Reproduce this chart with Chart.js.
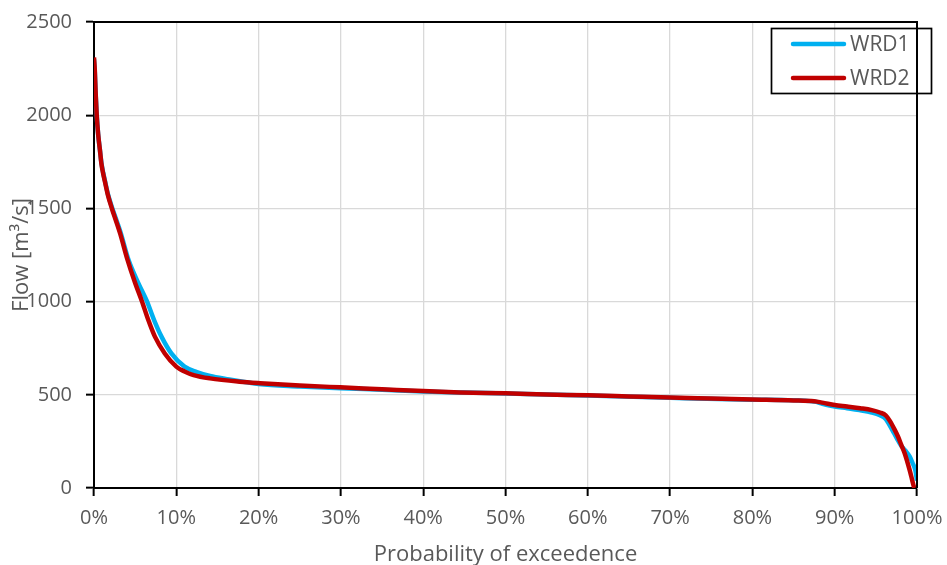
<!DOCTYPE html>
<html>
<head>
<meta charset="utf-8">
<script src="https://cdn.jsdelivr.net/npm/chart.js@4/dist/chart.umd.min.js"></script>
<style>
  html, body { margin: 0; padding: 0; background: #fff; }
  #wrap { width: 947px; height: 565px; position: relative; }
</style>
</head>
<body>
<div id="wrap"><canvas id="c" width="947" height="565"></canvas></div>
<script>
// ---- data (probability of exceedence in %, flow in m3/s) ----
const seriesNames = ['WRD1', 'WRD2'];
const xTitle = 'Probability of exceedence';
const yTitle = 'Flow [m\u00B3/s]';

const wrd1Prob = [0, 0.1, 0.2, 0.33, 0.5, 0.72, 0.9, 1.1, 1.37, 1.7, 2.19, 2.7, 3.2, 4.2, 5.4, 6.4, 7.3, 8.2, 9.4, 11.0, 12.5, 14.1, 16, 20, 25, 30, 35, 40, 45, 50, 60, 70, 80, 87.5, 88.5, 90, 91.5, 93, 94.5, 95.5, 96.2, 96.7, 97.2, 97.6, 98.1, 98.6, 99.1, 99.5, 99.8, 100];
const wrd1Flow = [2300, 2230, 2115, 2000, 1900, 1813, 1745, 1695, 1640, 1575, 1505, 1440, 1375, 1223, 1098, 1005, 901, 812, 722, 651, 622, 601, 585, 558, 545, 535, 527, 518, 512, 507, 496, 484, 474, 464, 452, 437, 428, 418, 405, 390, 370, 335, 295, 262, 225, 200, 170, 130, 95, 40];

const wrd2Prob = [0, 0.1, 0.2, 0.33, 0.5, 0.72, 0.9, 1.1, 1.37, 1.7, 2.19, 2.7, 3.2, 4.0, 5.0, 5.8, 6.6, 7.4, 8.6, 10.0, 11.0, 12.1, 14.1, 17.7, 20.2, 25, 29.9, 35, 40, 44.5, 50, 55, 60, 65, 70, 75, 80, 85, 87.5, 88.5, 90, 91.5, 93.1, 94.5, 95.5, 96.2, 96.7, 97.2, 97.7, 98.1, 98.5, 99.1, 99.4, 99.6, 99.7];
const wrd2Flow = [2310, 2240, 2120, 2000, 1900, 1813, 1740, 1690, 1635, 1570, 1497, 1430, 1362, 1235, 1100, 1005, 901, 812, 722, 651, 625, 606, 588, 570, 562, 550, 540, 530, 520, 513, 508, 502, 497, 491, 485, 480, 475, 470, 465, 458, 445, 437, 428, 418, 405, 390, 360, 320, 275, 230, 186, 97, 45, 10, 0];

const xTicks = [0, 10, 20, 30, 40, 50, 60, 70, 80, 90, 100];
const yTicks = [0, 500, 1000, 1500, 2000, 2500];

const colors = ['#00B0F0', '#C00000'];

function toPoints(xs, ys) { return xs.map((x, i) => ({ x: x, y: ys[i] })); }

const FONT = '"Open Sans", sans-serif';
Chart.defaults.font.family = FONT;
Chart.defaults.color = '#595959';

const framePlugin = {
  id: 'frame',
  afterDraw(chart) {
    const ctx = chart.ctx;
    const a = chart.chartArea;
    ctx.save();
    ctx.strokeStyle = '#000';
    ctx.lineWidth = 2;
    ctx.beginPath();
    ctx.moveTo(a.left, a.top);
    ctx.lineTo(a.right, a.top);
    ctx.lineTo(a.right, a.bottom);
    ctx.stroke();

    // axis titles
    ctx.fillStyle = '#595959';
    ctx.font = '22px ' + FONT;
    ctx.textAlign = 'center';
    ctx.textBaseline = 'alphabetic';
    ctx.fillText(xTitle, (a.left + a.right) / 2, 561);
    ctx.save();
    ctx.translate(28, (a.top + a.bottom) / 2);
    ctx.rotate(-Math.PI / 2);
    ctx.fillText(yTitle, 0, 0);
    ctx.restore();

    // legend
    const lx = 771.5, ly = 28.5, lw = 160, lh = 65;
    ctx.strokeStyle = '#000';
    ctx.lineWidth = 1.7;
    ctx.strokeRect(lx, ly, lw, lh);
    ctx.font = '21px ' + FONT;
    ctx.textAlign = 'left';
    ctx.textBaseline = 'middle';
    chart.data.datasets.forEach((ds, i) => {
      const y = i === 0 ? 44 : 78;
      ctx.strokeStyle = ds.borderColor;
      ctx.lineWidth = 4.5;
      ctx.lineCap = 'round';
      ctx.beginPath();
      ctx.moveTo(793, y);
      ctx.lineTo(844, y);
      ctx.stroke();
      ctx.fillStyle = '#595959';
      ctx.fillText(ds.label, 850, y + 1);
    });
    ctx.restore();
  }
};

new Chart(document.getElementById('c'), {
  type: 'scatter',
  data: {
    datasets: [
      { label: seriesNames[0], data: toPoints(wrd1Prob, wrd1Flow), showLine: true, borderColor: colors[0], backgroundColor: colors[0], borderWidth: 4.5, pointRadius: 0, cubicInterpolationMode: 'monotone', order: 2 },
      { label: seriesNames[1], data: toPoints(wrd2Prob, wrd2Flow), showLine: true, borderColor: colors[1], backgroundColor: colors[1], borderWidth: 4.5, pointRadius: 0, cubicInterpolationMode: 'monotone', order: 1 }
    ]
  },
  options: {
    responsive: false,
    animation: false,
    layout: { padding: { top: 22, right: 30, left: 0, bottom: 0 } },
    plugins: { legend: { display: false }, tooltip: { enabled: false } },
    scales: {
      x: {
        type: 'linear', min: 0, max: 100,
        afterBuildTicks(s) { s.ticks = xTicks.map(v => ({ value: v })); },
        afterFit(s) { s.height = 77; s.paddingLeft = 0; s.paddingRight = 0; },
        ticks: { callback: v => v + '%', font: { size: 20 }, color: '#595959', padding: 10, maxRotation: 0 },
        grid: { color: '#d9d9d9', lineWidth: 1.3, tickColor: '#000', tickLength: 8, tickWidth: 2 },
        border: { color: '#000', width: 2 }
      },
      y: {
        type: 'linear', min: 0, max: 2500,
        afterBuildTicks(s) { s.ticks = yTicks.map(v => ({ value: v })); },
        afterFit(s) { s.width = 94; s.paddingTop = 0; s.paddingBottom = 0; },
        ticks: { callback: v => String(v), font: { size: 20 }, color: '#595959', padding: 14 },
        grid: { color: '#d9d9d9', lineWidth: 1.3, tickColor: '#000', tickLength: 8, tickWidth: 2 },
        border: { color: '#000', width: 2 }
      }
    }
  },
  plugins: [framePlugin]
});
</script>
</body>
</html>
